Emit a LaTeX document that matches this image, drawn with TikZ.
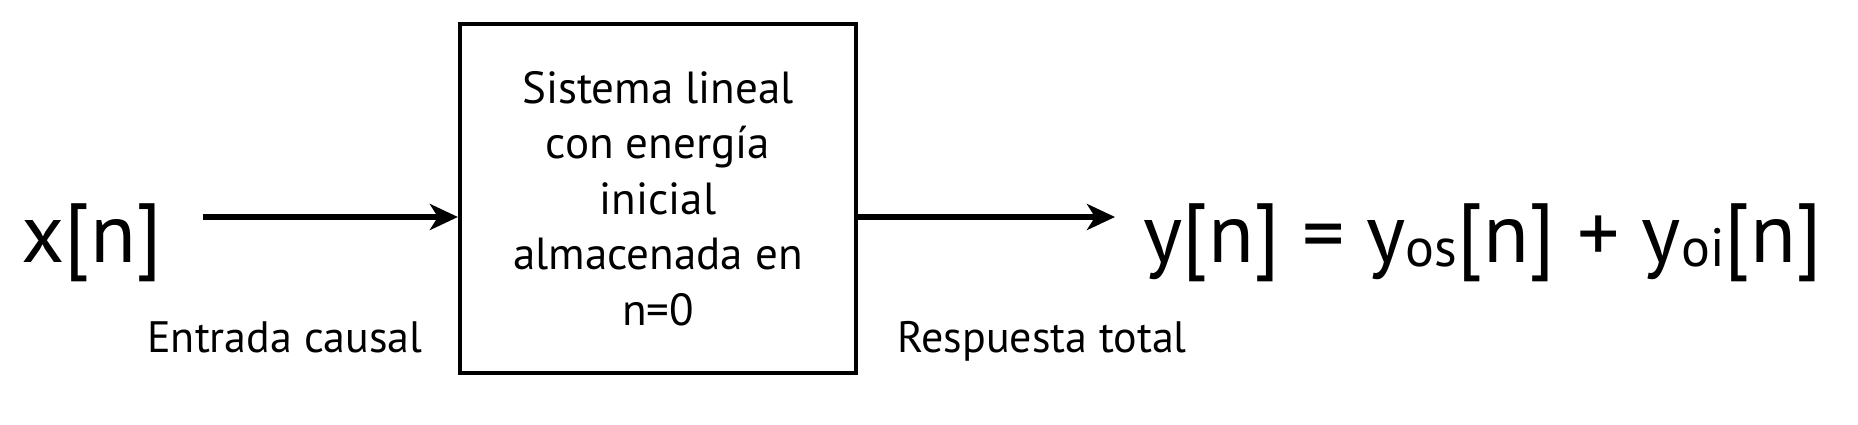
\documentclass[tikz,border=0pt]{standalone}
\usepackage{fontspec}
\setmainfont{PT Sans}
\usetikzlibrary{arrows.meta}
\newcommand{\sbs}[1]{\raisebox{-0.05em}{\fontsize{27}{27}\selectfont #1}}
\begin{document}
\begin{tikzpicture}[x=0.5pt,y=0.5pt,
  conn/.style={line width=2.6pt,-{Stealth[length=14pt,width=13pt,inset=4pt]}},
  blk/.style={draw,line width=2.1pt,minimum width=198pt,minimum height=174.5pt,inner sep=0pt,align=center,font=\fontsize{22.5}{27.8}\selectfont},
  lbl/.style={font=\fontsize{22}{24}\selectfont,inner sep=0pt},
  big/.style={font=\fontsize{42}{48}\selectfont,inner sep=0pt}]
\useasboundingbox (0,0) rectangle (1858,424);
\node[blk] (sys) at (658,225.5) {Sistema lineal\\con energía\\inicial\\almacenada en\\n=0};
\node[big,anchor=base west] (x) at (21,162) {x[n]};
\node[big,anchor=base west] (y) at (1143,162) {y[n] = y\sbs{os}[n] + y\sbs{oi}[n]};
\node[lbl,anchor=base] (ent) at (285,72) {Entrada causal};
\node[lbl,anchor=base] (resp) at (1042,72) {Respuesta total};
\coordinate (a1s) at (203,207);
\coordinate (a2e) at (1115,207);
\draw[conn] (a1s) -- (a1s -| sys.west);
\draw[conn] (sys.east |- a2e) -- (a2e);
\end{tikzpicture}
\end{document}
